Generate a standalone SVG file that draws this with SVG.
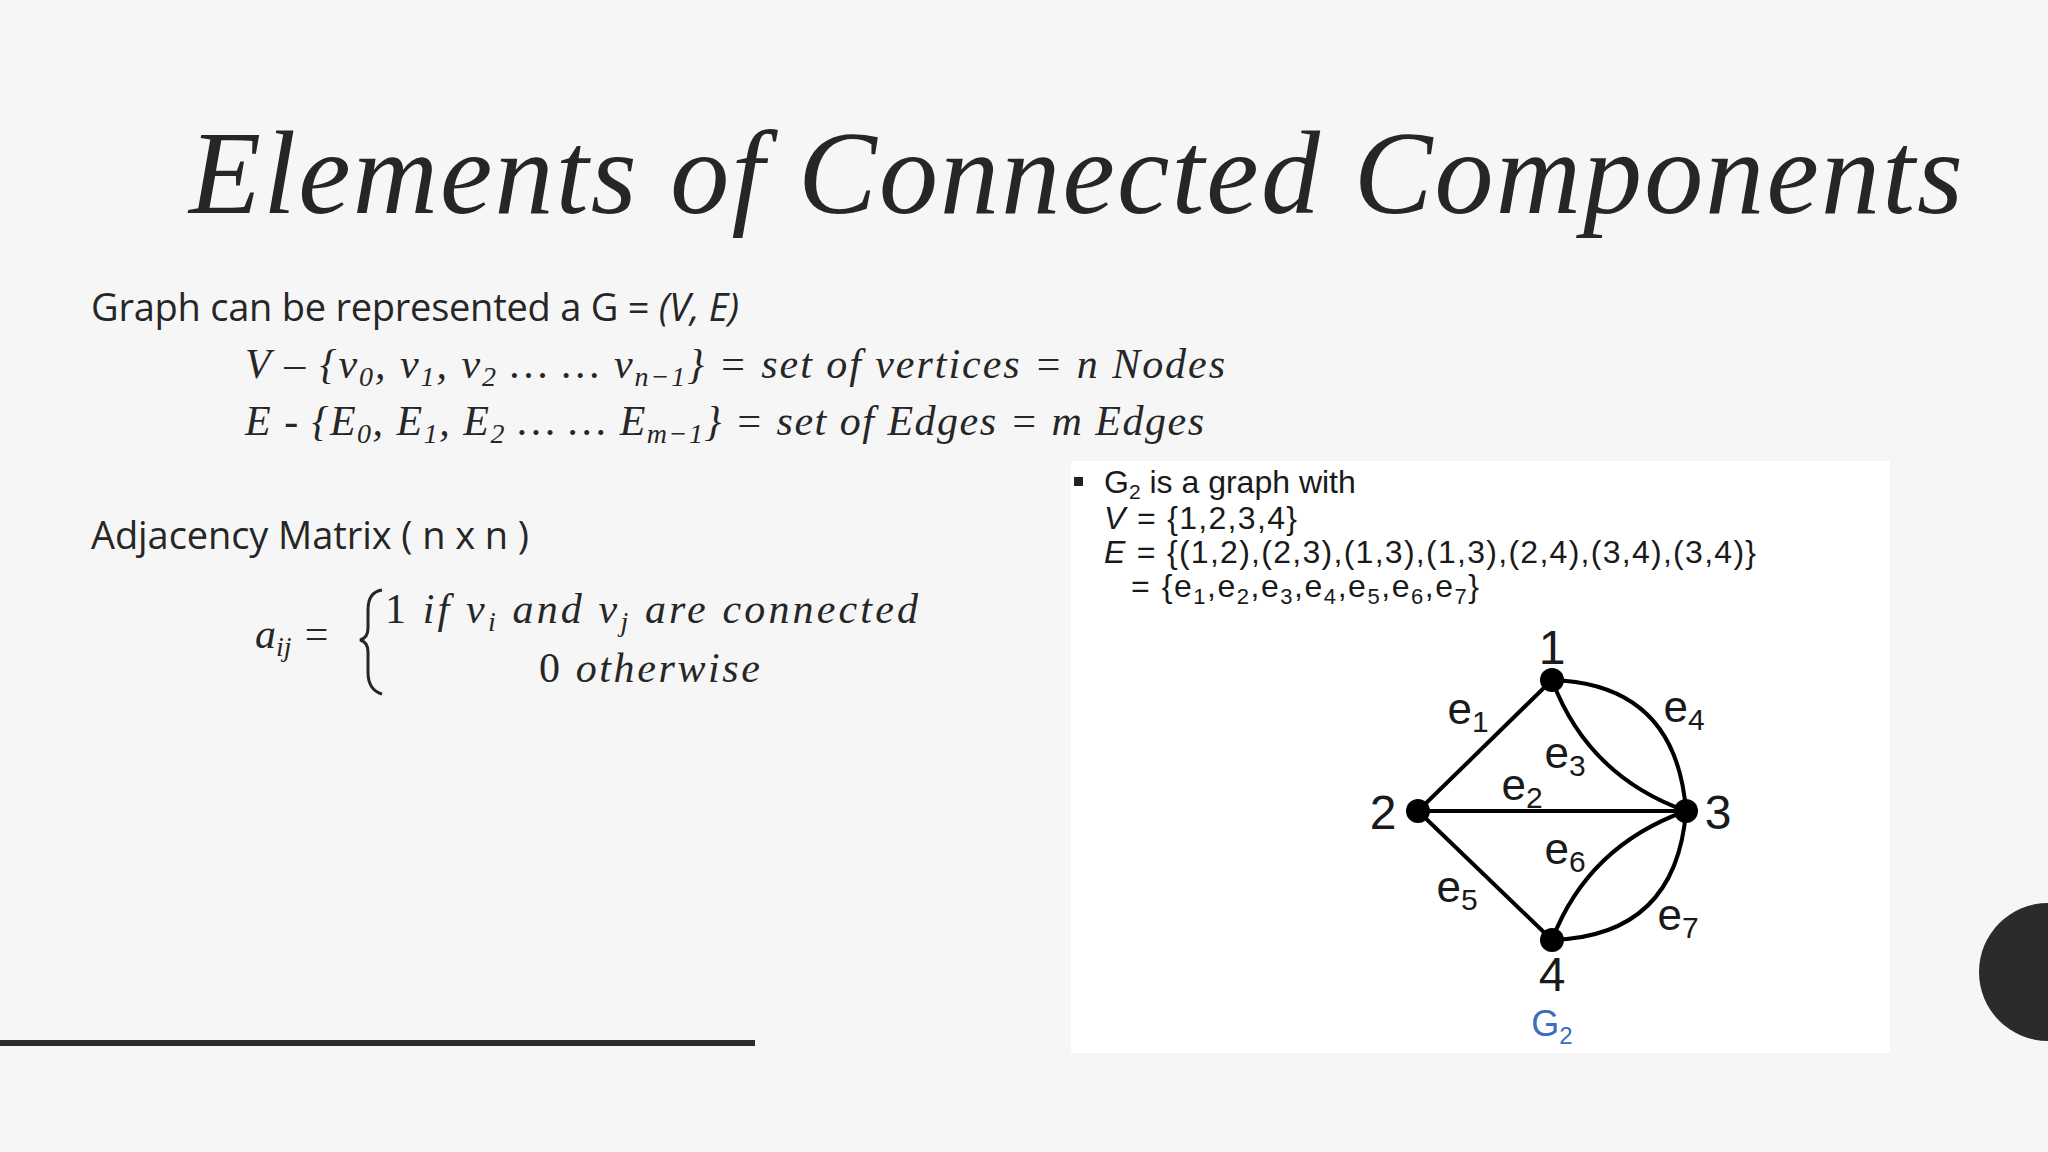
<svg xmlns="http://www.w3.org/2000/svg" width="2048" height="1152" viewBox="0 0 2048 1152">
<style>
.body{font-family:"Open Sans","Liberation Sans",sans-serif;fill:#262626}
.math{font-family:"Liberation Serif",serif;font-style:italic;fill:#262626}
.g{font-family:"Liberation Sans",Arial,sans-serif;fill:#1a1a1a}
.edge{fill:none;stroke:#000;stroke-width:4}
</style>
<rect width="2048" height="1152" fill="#f6f6f6"/>
<text x="189" y="213" font-family="Liberation Serif,serif" font-style="italic" font-size="118" fill="#262626" textLength="1774">Elements of Connected Components</text>
<g id="text-left">
<text class="body" x="91" y="321" font-size="38" textLength="648">Graph can be represented a G = <tspan font-style="italic">(V, E)</tspan></text>
<text class="math" x="245" y="378" font-size="42" textLength="980">V – {v<tspan font-size="28" dy="8">0</tspan><tspan dy="-8">, v</tspan><tspan font-size="28" dy="8">1</tspan><tspan dy="-8">, v</tspan><tspan font-size="28" dy="8">2</tspan><tspan dy="-8">  … … v</tspan><tspan font-size="28" dy="8">n−1</tspan><tspan dy="-8">} = set of  vertices = n Nodes</tspan></text>
<text class="math" x="245" y="435" font-size="42" textLength="959">E - {E<tspan font-size="28" dy="8">0</tspan><tspan dy="-8">, E</tspan><tspan font-size="28" dy="8">1</tspan><tspan dy="-8">, E</tspan><tspan font-size="28" dy="8">2</tspan><tspan dy="-8">  … … E</tspan><tspan font-size="28" dy="8">m−1</tspan><tspan dy="-8">} = set of  Edges = m Edges</tspan></text>
<text class="body" x="91" y="549" font-size="38" textLength="438">Adjacency Matrix ( n x n )</text>
<text class="math" x="255" y="648" font-size="42">a<tspan font-size="28" dy="8">ij</tspan><tspan dy="-8"> =</tspan></text>
<path d="M382 590 Q368 592 368 610 L368 628 Q368 638 360 640 Q368 642 368 652 L368 672 Q368 690 382 694" fill="none" stroke="#262626" stroke-width="3"/>
<text class="math" x="385" y="623" font-size="42" textLength="533"><tspan font-style="normal">1</tspan> if v<tspan font-size="28" dy="8">i</tspan><tspan dy="-8"> and v</tspan><tspan font-size="28" dy="8">j</tspan><tspan dy="-8"> are connected</tspan></text>
<text class="math" x="539" y="682" font-size="42" textLength="221"><tspan font-style="normal">0</tspan> otherwise</text>
</g>
<rect x="0" y="1040" width="755" height="6" fill="#2b2b2b"/>
<circle cx="2048" cy="972" r="69" fill="#2b2b2b"/>
<rect x="1071" y="461" width="819" height="592" fill="#ffffff"/>
<g id="graph-text" class="g" font-size="32">
<rect x="1074" y="477" width="9" height="9" fill="#222"/>
<text x="1104" y="493">G<tspan font-size="21" dy="6">2</tspan><tspan dy="-6"> is a graph with</tspan></text>
<text x="1104" y="529" textLength="193"><tspan font-style="italic">V</tspan> = {1,2,3,4}</text>
<text x="1104" y="563" textLength="652"><tspan font-style="italic">E</tspan> = {(1,2),(2,3),(1,3),(1,3),(2,4),(3,4),(3,4)}</text>
<text x="1131" y="597" textLength="348">= {e<tspan font-size="22" dy="7">1</tspan><tspan dy="-7">,e</tspan><tspan font-size="22" dy="7">2</tspan><tspan dy="-7">,e</tspan><tspan font-size="22" dy="7">3</tspan><tspan dy="-7">,e</tspan><tspan font-size="22" dy="7">4</tspan><tspan dy="-7">,e</tspan><tspan font-size="22" dy="7">5</tspan><tspan dy="-7">,e</tspan><tspan font-size="22" dy="7">6</tspan><tspan dy="-7">,e</tspan><tspan font-size="22" dy="7">7</tspan><tspan dy="-7">}</tspan></text>
</g>
<g id="edges">
<line class="edge" x1="1552" y1="680" x2="1418" y2="811"/>
<line class="edge" x1="1418" y1="811" x2="1686" y2="811"/>
<line class="edge" x1="1418" y1="811" x2="1552" y2="940"/>
<path class="edge" d="M1552 680 Q1676 684 1686 811"/>
<path class="edge" d="M1552 680 Q1588 776 1686 811"/>
<path class="edge" d="M1686 811 Q1588 846 1552 940"/>
<path class="edge" d="M1686 811 Q1676 936 1552 940"/>
</g>
<g id="edge-labels" class="g" font-size="44" text-anchor="middle">
<text x="1468" y="724">e<tspan font-size="30" dy="8">1</tspan></text>
<text x="1522" y="800">e<tspan font-size="30" dy="8">2</tspan></text>
<text x="1565" y="768">e<tspan font-size="30" dy="8">3</tspan></text>
<text x="1684" y="722">e<tspan font-size="30" dy="8">4</tspan></text>
<text x="1457" y="902">e<tspan font-size="30" dy="8">5</tspan></text>
<text x="1565" y="864">e<tspan font-size="30" dy="8">6</tspan></text>
<text x="1678" y="930">e<tspan font-size="30" dy="8">7</tspan></text>
</g>
<g id="node1"><circle cx="1552" cy="680" r="12"/><text class="g" x="1552" y="664" font-size="48" text-anchor="middle">1</text></g>
<g id="node2"><circle cx="1418" cy="811" r="12"/><text class="g" x="1383" y="829" font-size="48" text-anchor="middle">2</text></g>
<g id="node3"><circle cx="1686" cy="811" r="12"/><text class="g" x="1718" y="829" font-size="48" text-anchor="middle">3</text></g>
<g id="node4"><circle cx="1552" cy="940" r="12"/><text class="g" x="1552" y="991" font-size="48" text-anchor="middle">4</text></g>
<text x="1552" y="1036" font-family="Liberation Sans,sans-serif" font-size="36" fill="#3a6cc0" text-anchor="middle">G<tspan font-size="24" dy="8">2</tspan></text>
</svg>
